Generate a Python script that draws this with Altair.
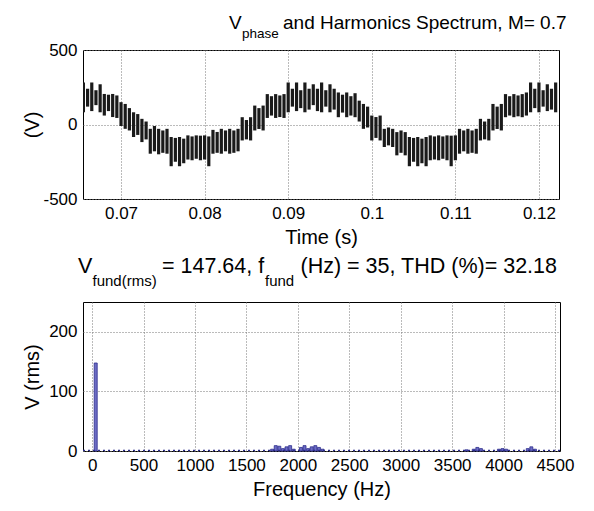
import altair as alt
import pandas as pd

# ---------------- data ----------------
# Phase-voltage waveform: per 0.5 ms column, upper and lower extent of the PWM band (V)
t_start = 0.0655
t_step = 0.0005
v_hi = [282, 240, 282, 230, 270, 205, 200, 205, 195, 150,
        138, 110, 82, 70, 38, 20, -29, -10, -29, -40,
        -29, -84, -90, -84, -95, -73, -80, -73, -75, -73,
        -80, -36, -50, -29, -40, -29, -40, -29, 49, 30,
        49, 127, 110, 127, 204, 190, 204, 195, 204, 282,
        240, 282, 230, 282, 240, 270, 240, 282, 230, 270,
        240, 215, 200, 215, 190, 210, 160, 138, 120, 60,
        50, 60, -29, -20, -29, -51, -40, -51, -84, -90,
        -84, -95, -84, -73, -80, -73, -80, -73, -75, -73,
        -29, -40, -29, -40, -29, 38, 20, 38, 138, 120,
        138, 204, 190, 204, 195, 204, 215, 282, 240, 282,
        230, 270, 240, 282]
v_lo = [82, 120, 90, 130, 82, 60, 90, 50, 44, -10,
        -29, -40, -84, -70, -118, -100, -196, -180, -200, -190,
        -196, -280, -250, -280, -260, -235, -240, -230, -240, -235,
        -280, -196, -190, -196, -180, -196, -190, -180, -107, -100,
        -107, -40, -30, -40, 44, 60, 44, 50, 44, 82,
        120, 90, 110, 82, 100, 130, 90, 82, 120, 82,
        100, 49, 80, 49, 60, 49, 20, -29, -20, -107,
        -90, -107, -151, -140, -151, -207, -190, -207, -280, -250,
        -280, -260, -280, -240, -235, -240, -230, -240, -280, -240,
        -196, -180, -196, -190, -196, -107, -100, -107, -40, -30,
        -40, 49, 60, 49, 55, 49, 60, 82, 110, 82,
        120, 90, 100, 82]
times = [round(t_start + i * t_step, 5) for i in range(len(v_hi))]

# Harmonic spectrum (Hz, V rms)
harm_freq = [35, 1750, 1785, 1820, 1855, 1890, 1925, 1960, 2030, 2065, 2100,
             2135, 2170, 2205, 2240, 3640, 3710, 3745, 3780, 3955, 3990,
             4025, 4235, 4270, 4305]
harm_amp = [147.64, 3, 9, 8, 4, 7, 9, 3, 6, 9, 4,
            7, 9, 6, 3, 2, 3, 6, 4, 3, 4,
            3, 4, 7, 3]
noise_floor = [1.0]

time_ticks = [0.07, 0.08, 0.09, 0.1, 0.11, 0.12]
volt_ticks = [-500, 0, 500]
freq_ticks = [0, 500, 1000, 1500, 2000, 2500, 3000, 3500, 4000, 4500]
vrms_ticks = [0, 100, 200]

title_parts = ["V", "phase", "and Harmonics Spectrum, M= 0.7"]
sub_parts = ["V", "fund(rms)", "= 147.64, f", "fund", "(Hz) = 35, THD (%)= 32.18"]

# ---------------- chart ----------------
FONT = "Liberation Sans"
W1, H1 = 476, 149
W2, H2 = 477, 149

wave = pd.DataFrame({"t": times, "hi": v_hi, "lo": v_lo})
spec = pd.DataFrame({"f": harm_freq, "a": harm_amp})
floor_df = pd.DataFrame({"y": noise_floor})

title_df = pd.DataFrame({
    "s": title_parts + sub_parts,
    "px": [146, 159, 200, -5, 9.5, 79, 182, 217.5],
    "py": [-21, -12, -21, 223, 236, 223, 236, 223],
    "fs": [19, 13.5, 19, 21.5, 15, 21.5, 15, 21.5],
})

grid_kw = dict(grid=True, gridDash=[1, 2], gridColor="#777", gridOpacity=1,
               ticks=False, domain=False, labelFontSize=17, titleFontSize=20,
               labelColor="black", titleColor="black", titleFontWeight="normal",
               labelFont=FONT, titleFont=FONT, labelExpr="toString(datum.value)")

x_top = alt.X("t:Q", scale=alt.Scale(domain=[0.06545, 0.1224], nice=False, zero=False),
              axis=alt.Axis(values=time_ticks, title="Time (s)",
                            labelPadding=6, titlePadding=6, **grid_kw))
y_top = alt.Y("lo:Q", scale=alt.Scale(domain=[-500, 500], nice=False),
              axis=alt.Axis(values=volt_ticks, title="(V)",
                            labelPadding=6, titlePadding=0, **grid_kw))

waveform = alt.Chart(wave).mark_rule(color="#1a1a1a", strokeWidth=3.2, clip=True).encode(
    x=x_top, y=y_top, y2="hi:Q")

titles = alt.Chart(title_df).mark_text(align="left", baseline="alphabetic", font=FONT,
                                       color="black").encode(
    x=alt.X("px:Q", scale=None), y=alt.Y("py:Q", scale=None),
    text="s:N", size=alt.Size("fs:Q", scale=None, legend=None))

top = alt.layer(waveform, titles).properties(width=W1, height=H1)

x_bot = alt.X("f:Q", scale=alt.Scale(domain=[-40, 4500], nice=False, zero=False),
              axis=alt.Axis(values=freq_ticks, title="Frequency (Hz)", labelPadding=6,
                            titlePadding=6, **grid_kw))
y_bot = alt.Y("a:Q", scale=alt.Scale(domain=[0, 250], nice=False),
              axis=alt.Axis(values=vrms_ticks, title="V (rms)", labelPadding=6,
                            titlePadding=6, **grid_kw))

bars = alt.Chart(spec).mark_bar(size=3, fill="#6c6cc4", stroke="#2b2b8c",
                                strokeWidth=0.8).encode(x=x_bot, y=y_bot)
floor = alt.Chart(floor_df).mark_rule(color="#2b2b8c", strokeDash=[2, 3],
                                      strokeWidth=1.2).encode(y=alt.Y("y:Q"))

bottom = alt.layer(bars, floor).properties(width=W2, height=H2)

chart = alt.vconcat(top, bottom, spacing=11).properties(
    padding={"left": 14, "top": 5, "right": 5, "bottom": 5}).configure(
    font=FONT).configure_view(stroke="black", strokeWidth=1)

chart.save("out.html", embed_options={"renderer": "svg", "actions": False})
